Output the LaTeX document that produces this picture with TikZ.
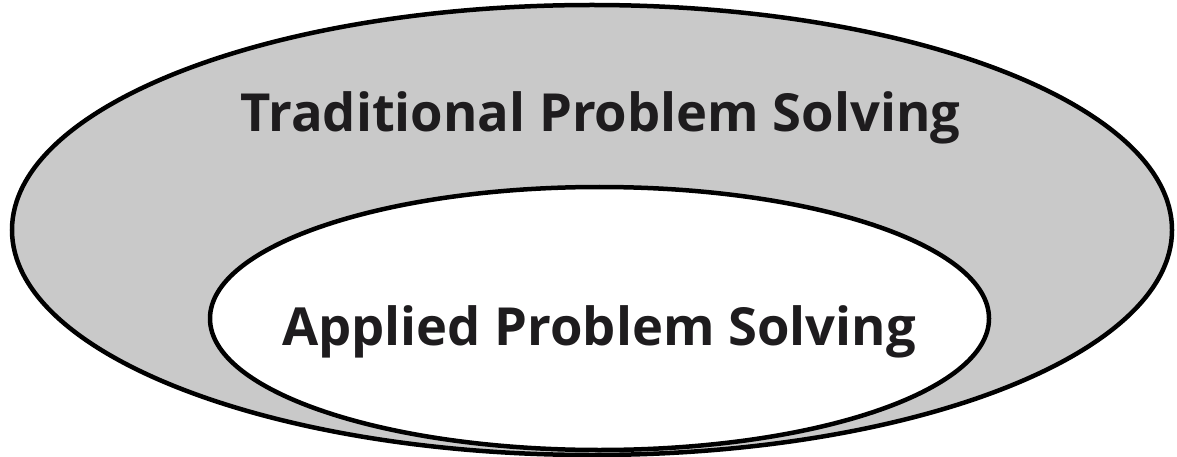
\documentclass[tikz,border=0pt]{standalone}
\usepackage{fontspec}
\setmainfont{Open Sans}
\usetikzlibrary{shapes.geometric}
\definecolor{ringgray}{RGB}{201,201,201}
\definecolor{inkdark}{RGB}{30,28,30}
\tikzset{
  ring/.style={ellipse, draw=black, line width=4.5pt, inner sep=0pt},
  label text/.style={font=\fontsize{52.5}{62}\selectfont\bfseries, text=inkdark, inner sep=0pt, anchor=base},
}
\begin{document}
\begin{tikzpicture}[x=1pt,y=-1pt]
\useasboundingbox (0,0) rectangle (1177,457);
\node[ring, fill=ringgray, minimum width=1160pt, minimum height=450pt] (outer) at (592,230) {};
\node[ring, fill=white, minimum width=779pt, minimum height=263pt] (inner) at (599.5,318.5) {};
\node[label text] (trad) at (600.5,132) {Traditional Problem Solving};
\node[label text] (appl) at (599,345) {Applied Problem Solving};
\end{tikzpicture}
\end{document}
